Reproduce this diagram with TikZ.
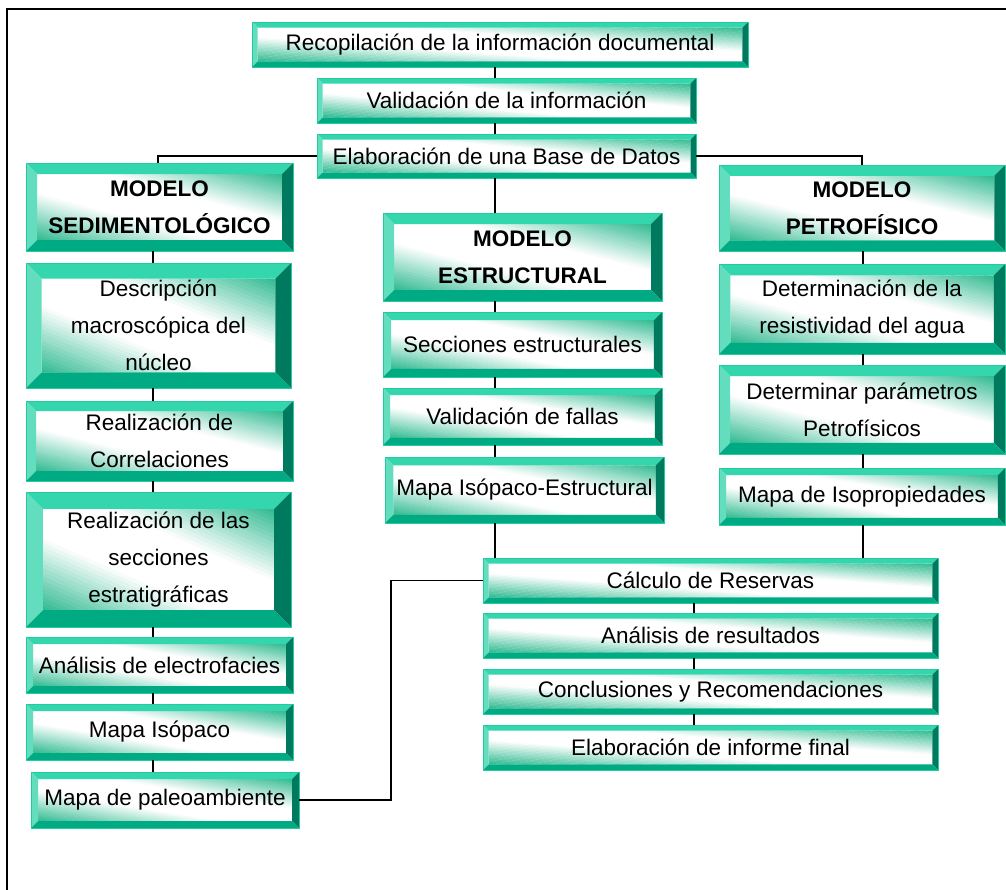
\documentclass[tikz,border=0pt]{standalone}
\usepackage{fontspec}
\setmainfont{Liberation Sans}

% bevel palette
\definecolor{bvTop}{HTML}{33D6AD}
\definecolor{bvLeft}{HTML}{62DEBF}
\definecolor{bvRight}{HTML}{007A5E}
\definecolor{bvBot}{HTML}{00AA82}
\definecolor{bvEdge}{HTML}{22CC9E}
\definecolor{faceG}{HTML}{2FBA8F}

\newcommand\boxfont{\fontsize{22.5}{37}\selectfont}

\tikzset{
  bbox/.style={inner sep=0pt, outer sep=0pt, align=center, font=\boxfont,
    anchor=north west, draw=bvEdge, line width=0.6pt},
  link/.style={draw=black, line width=1.5pt},
  frame/.style={draw=black, line width=2pt}
}

% \bbox{name}{left}{top}{width}{height}{extra options}{text}
% bevelled panel: four sloped rims round a face shaded along its diagonal
\newcommand\bbox[7]{%
  \pgfmathsetmacro\bv{0.125*min(#4,#5)}%
  \pgfmathsetmacro\xa{#2}\pgfmathsetmacro\ya{#3}%
  \pgfmathsetmacro\xb{#2+#4}\pgfmathsetmacro\yb{#3+#5}%
  \pgfmathsetmacro\ia{#2+\bv}\pgfmathsetmacro\ja{#3+\bv}%
  \pgfmathsetmacro\ib{#2+#4-\bv}\pgfmathsetmacro\jb{#3+#5-\bv}%
  \pgfmathsetmacro\fw{\ib-\ia}%
  \begin{scope}
    \clip (\ia,\ja) rectangle (\ib,\jb);
    \fill[white] (\ia,\ja) rectangle (\ib,\jb);
    \foreach \k in {0,...,47}{%
      \pgfmathsetmacro\sa{\k/48}\pgfmathsetmacro\sb{(\k+1.2)/48}%
      \pgfmathtruncatemacro\g{100*min(1,max(0,(abs(2*(\k+0.5)/48-1)-0.28)/0.72))}%
      \fill[faceG!\g!white] ({\ia+2*\sa*\fw},\jb) -- ({\ia+2*\sb*\fw},\jb)
        -- ({\ia+(2*\sb-1)*\fw},\ja) -- ({\ia+(2*\sa-1)*\fw},\ja) -- cycle;
    }%
  \end{scope}
  \fill[bvTop] (\xa,\ya) -- (\xb,\ya) -- (\ib,\ja) -- (\ia,\ja) -- cycle;
  \fill[bvLeft] (\xa,\ya) -- (\ia,\ja) -- (\ia,\jb) -- (\xa,\yb) -- cycle;
  \fill[bvRight] (\xb,\ya) -- (\xb,\yb) -- (\ib,\jb) -- (\ib,\ja) -- cycle;
  \fill[bvBot] (\xa,\yb) -- (\ia,\jb) -- (\ib,\jb) -- (\xb,\yb) -- cycle;
  \node[bbox, minimum width=#4pt, minimum height=#5pt, #6] (#1) at (#2,#3) {#7};%
}

\begin{document}
\begin{tikzpicture}[x=1pt, y=-1pt]
\useasboundingbox (0,0) rectangle (1006,889);
\clip (0,0) rectangle (1006,889);

% outer frame
\draw[frame] (7,9) rectangle (1030,920);

% column guides for the connectors
\coordinate (cTop) at (495,0);
\coordinate (cLeft) at (153,0);
\coordinate (cSed) at (158,0);
\coordinate (cRight) at (863,0);
\coordinate (cBot) at (694,0);
\coordinate (cJoin) at (391,0);

% header chain
\bbox{rec}{252}{22}{496}{45}{}{Recopilación de la información documental}
\bbox{val}{317}{78}{379}{45}{}{Validación de la información}
\bbox{bd}{317}{134}{379}{44}{}{Elaboración de una Base de Datos}

% sedimentological column
\bbox{sed}{26}{163}{267}{88}{font=\boxfont\bfseries}{MODELO\\SEDIMENTOLÓGICO}
\bbox{desc}{26}{263}{265}{125}{}{Descripción\\macroscópica del\\núcleo}
\bbox{corr}{26}{401}{267}{80}{}{Realización de\\Correlaciones}
\bbox{secc}{26}{492}{265}{135}{}{Realización de las\\secciones\\estratigráficas}
\bbox{elec}{26}{637}{267}{56}{}{Análisis de electrofacies}
\bbox{iso}{26}{704}{267}{56}{}{Mapa Isópaco}
\bbox{paleo}{31}{772}{268}{56}{}{Mapa de paleoambiente}

% structural column
\bbox{est}{383}{213}{279}{88}{font=\boxfont\bfseries}{MODELO\\ESTRUCTURAL}
\bbox{secest}{383}{312}{279}{65}{}{Secciones estructurales}
\bbox{fallas}{383}{388}{279}{57}{}{Validación de fallas}
\bbox{isoest}{385}{457}{279}{66}{}{Mapa Isópaco-Estructural}

% petrophysical column
\bbox{petro}{719}{165}{286}{86}{font=\boxfont\bfseries}{MODELO\\PETROFÍSICO}
\bbox{resist}{719}{264}{286}{90}{}{Determinación de la\\resistividad del agua}
\bbox{param}{719}{365}{286}{89}{}{Determinar parámetros\\Petrofísicos}
\bbox{isoprop}{719}{468}{286}{57}{}{Mapa de Isopropiedades}

% closing chain
\bbox{calc}{483}{558}{455}{45}{}{Cálculo de Reservas}
\bbox{anal}{483}{613}{455}{45}{}{Análisis de resultados}
\bbox{concl}{483}{669}{455}{45}{}{Conclusiones y Recomendaciones}
\bbox{inf}{483}{725}{455}{45}{}{Elaboración de informe final}

% connectors
\draw[link] (rec.south -| cTop) -- (val.north -| cTop);
\draw[link] (val.south -| cTop) -- (bd.north -| cTop);
\draw[link] (bd.south -| cTop) -- (est.north -| cTop);
\draw[link] (bd.west) -| (sed.north -| cSed);
\draw[link] (bd.east) -| (petro.north);

\draw[link] (sed.south -| cLeft) -- (desc.north -| cLeft);
\draw[link] (desc.south -| cLeft) -- (corr.north -| cLeft);
\draw[link] (corr.south -| cLeft) -- (secc.north -| cLeft);
\draw[link] (secc.south -| cLeft) -- (elec.north -| cLeft);
\draw[link] (elec.south -| cLeft) -- (iso.north -| cLeft);
\draw[link] (iso.south -| cLeft) -- (paleo.north -| cLeft);

\draw[link] (est.south -| cTop) -- (secest.north -| cTop);
\draw[link] (secest.south -| cTop) -- (fallas.north -| cTop);
\draw[link] (fallas.south -| cTop) -- (isoest.north -| cTop);
\draw[link] (isoest.south -| cTop) -- (calc.north -| cTop);

\draw[link] (petro.south -| cRight) -- (resist.north -| cRight);
\draw[link] (resist.south -| cRight) -- (param.north -| cRight);
\draw[link] (param.south -| cRight) -- (isoprop.north -| cRight);
\draw[link] (isoprop.south -| cRight) -- (calc.north -| cRight);

\draw[link] (calc.south -| cBot) -- (anal.north -| cBot);
\draw[link] (anal.south -| cBot) -- (concl.north -| cBot);
\draw[link] (concl.south -| cBot) -- (inf.north -| cBot);

\draw[link] (paleo.east) -- (paleo.east -| cJoin) |- (calc.west);
\end{tikzpicture}
\end{document}
